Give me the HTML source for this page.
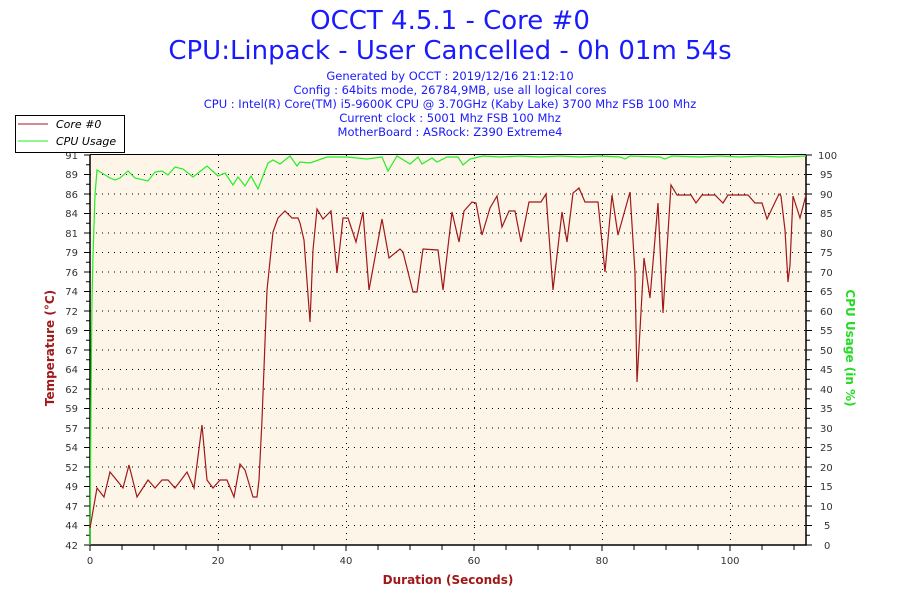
<!DOCTYPE html>
<html><head><meta charset="utf-8"><style>
body{margin:0;background:#fff;width:900px;height:600px;overflow:hidden}
svg{display:block;font-family:"DejaVu Sans","Liberation Sans",sans-serif}
</style></head><body>
<svg width="900" height="600" viewBox="0 0 900 600">
<text x="450" y="29" text-anchor="middle" font-size="26" fill="#1a1aff">OCCT 4.5.1 - Core #0</text>
<text x="450" y="59" text-anchor="middle" font-size="26" fill="#1a1aff">CPU:Linpack - User Cancelled - 0h 01m 54s</text>
<g font-size="11.5" fill="#1a1aff" text-anchor="middle">
<text x="450" y="80">Generated by OCCT : 2019/12/16 21:12:10</text>
<text x="450" y="94">Config : 64bits mode, 26784,9MB, use all logical cores</text>
<text x="450" y="108">CPU : Intel(R) Core(TM) i5-9600K CPU @ 3.70GHz (Kaby Lake) 3700 Mhz FSB 100 Mhz</text>
<text x="450" y="122">Current clock : 5001 Mhz FSB 100 Mhz</text>
<text x="450" y="136">MotherBoard : ASRock: Z390 Extreme4</text>
</g>
<rect x="90" y="155" width="716" height="390" fill="#fdf6e8"/>
<g stroke="#000" stroke-dasharray="1,5" stroke-width="1">
<path d="M90 174.5H806M90 194H806M90 213.5H806M90 233H806M90 252.5H806M90 272H806M90 291.5H806M90 311H806M90 330.5H806M90 350H806M90 369.5H806M90 389H806M90 408.5H806M90 428H806M90 447.5H806M90 467H806M90 486.5H806M90 506H806M90 525.5H806"/>
<path d="M218.5 155V545M346.5 155V545M474.5 155V545M602.5 155V545M730.5 155V545"/>
</g>
<path d="M90 154.5H806" stroke="#000"/>
<path d="M90 155V545H806V155" stroke="#000" fill="none" stroke-width="1.5"/>
<g stroke="#000">
<path d="M84 155H90M84 174.5H90M84 194H90M84 213.5H90M84 233H90M84 252.5H90M84 272H90M84 291.5H90M84 311H90M84 330.5H90M84 350H90M84 369.5H90M84 389H90M84 408.5H90M84 428H90M84 447.5H90M84 467H90M84 486.5H90M84 506H90M84 525.5H90M84 545H90"/>
<path d="M86 164.7H90M86 184.2H90M86 203.7H90M86 223.2H90M86 242.7H90M86 262.2H90M86 281.7H90M86 301.2H90M86 320.7H90M86 340.2H90M86 359.7H90M86 379.2H90M86 398.7H90M86 418.2H90M86 437.7H90M86 457.2H90M86 476.7H90M86 496.2H90M86 515.7H90M86 535.2H90"/>
<path d="M806 155H812M806 174.5H812M806 194H812M806 213.5H812M806 233H812M806 252.5H812M806 272H812M806 291.5H812M806 311H812M806 330.5H812M806 350H812M806 369.5H812M806 389H812M806 408.5H812M806 428H812M806 447.5H812M806 467H812M806 486.5H812M806 506H812M806 525.5H812M806 545H812"/>
<path d="M806 164.7H810M806 184.2H810M806 203.7H810M806 223.2H810M806 242.7H810M806 262.2H810M806 281.7H810M806 301.2H810M806 320.7H810M806 340.2H810M806 359.7H810M806 379.2H810M806 398.7H810M806 418.2H810M806 437.7H810M806 457.2H810M806 476.7H810M806 496.2H810M806 515.7H810M806 535.2H810"/>
<path d="M90 545V551M122 545V550M154 545V550M186 545V550M218 545V551M250 545V550M282 545V550M314 545V550M346 545V551M378 545V550M410 545V550M442 545V550M474 545V551M506 545V550M538 545V550M570 545V550M602 545V551M634 545V550M666 545V550M698 545V550M730 545V551M762 545V550M794 545V550"/>
</g>
<g font-size="10" fill="#333" text-anchor="end">
<text x="78" y="159">91</text><text x="78" y="178">89</text><text x="78" y="198">86</text><text x="78" y="217">84</text><text x="78" y="237">81</text><text x="78" y="256">79</text><text x="78" y="276">76</text><text x="78" y="295">74</text><text x="78" y="315">72</text><text x="78" y="334">69</text><text x="78" y="354">67</text><text x="78" y="373">64</text><text x="78" y="393">62</text><text x="78" y="412">59</text><text x="78" y="432">57</text><text x="78" y="451">54</text><text x="78" y="471">52</text><text x="78" y="490">49</text><text x="78" y="510">47</text><text x="78" y="529">44</text><text x="78" y="549">42</text>
</g>
<g font-size="10" fill="#333" text-anchor="start">
<text x="818" y="159">100</text><text x="820" y="178">95</text><text x="820" y="198">90</text><text x="820" y="217">85</text><text x="820" y="237">80</text><text x="820" y="256">75</text><text x="820" y="276">70</text><text x="820" y="295">65</text><text x="820" y="315">60</text><text x="820" y="334">55</text><text x="820" y="354">50</text><text x="820" y="373">45</text><text x="820" y="393">40</text><text x="820" y="412">35</text><text x="820" y="432">30</text><text x="820" y="451">25</text><text x="820" y="471">20</text><text x="820" y="490">15</text><text x="820" y="510">10</text><text x="824" y="529">5</text><text x="824" y="549">0</text>
</g>
<g font-size="10" fill="#333" text-anchor="middle">
<text x="90" y="564">0</text><text x="218" y="564">20</text><text x="346" y="564">40</text><text x="474" y="564">60</text><text x="602" y="564">80</text><text x="730" y="564">100</text>
</g>
<text x="448" y="584" text-anchor="middle" font-size="12" font-weight="bold" fill="#a01818">Duration (Seconds)</text>
<text transform="translate(54,348) rotate(-90)" text-anchor="middle" font-size="12" font-weight="bold" fill="#a01818">Temperature (°C)</text>
<text transform="translate(846,348) rotate(90)" text-anchor="middle" font-size="12" font-weight="bold" fill="#22dd22">CPU Usage (in %)</text>
<polyline fill="none" stroke="#22ee22" stroke-width="1.2" points="90,545 91,400 92,300 93,256 95,195 97,170 110,178 115,180 120,178 128,171 135,178 148,181 155,172 162,171 168,175 175,167 183,169 193,177 207,166 218,176 225,173 233,185 238,177 245,186 251,176 258,189 268,163 273,160 280,164 290,156 297,166 300,162 310,163 327,157 347,157 367,159 382,157 388,171 397,156 410,164 418,157 422,164 432,158 437,162 447,157 458,157 463,165 470,159 483,156 500,157 520,156 540,157 560,156 580,157 600,156 620,157 625,159 630,156 660,157 665,159 672,156 700,157 720,156 740,157 760,156 780,157 806,156"/>
<polyline fill="none" stroke="#a01818" stroke-width="1.2" points="90,528 97,488 104,497 110,472 123,488 129,465 137,497 148,480 155,488 162,480 168,480 175,488 187,472 194,488 202,425 207,480 213,488 220,480 227,480 234,497 240,464 245,470 253,497 257,497 259,480 262,420 267,290 273,232 278,218 285,211 292,218 298,218 300,223 304,240 310,322 313,250 317,209 323,219 331,211 337,273 343,218 348,218 356,242 363,212 369,290 382,219 389,258 400,249 403,252 413,292 417,292 423,249 438,250 443,290 452,212 459,242 464,211 472,202 476,203 482,235 490,208 497,196 502,227 509,211 515,211 521,242 529,202 541,202 546,194 553,290 562,212 567,242 573,193 579,188 585,202 598,202 605,272 612,195 618,235 630,192 635,273 637,382 640,330 644,258 650,298 658,203 663,313 671,185 677,195 691,195 696,203 702,195 715,195 723,203 728,195 748,195 755,203 762,203 767,219 779,194 781,196 785,230 788,282 790,265 793,196 800,218 806,195"/>
<rect x="15.5" y="115.5" width="109" height="37" fill="#fff" stroke="#000"/>
<path d="M18 124H48" stroke="#a01818"/>
<path d="M18 141H48" stroke="#22ee22"/>
<text x="56" y="128" font-size="11" font-style="italic" fill="#000">Core #0</text>
<text x="56" y="145" font-size="11" font-style="italic" fill="#000">CPU Usage</text>
</svg>
</body></html>
